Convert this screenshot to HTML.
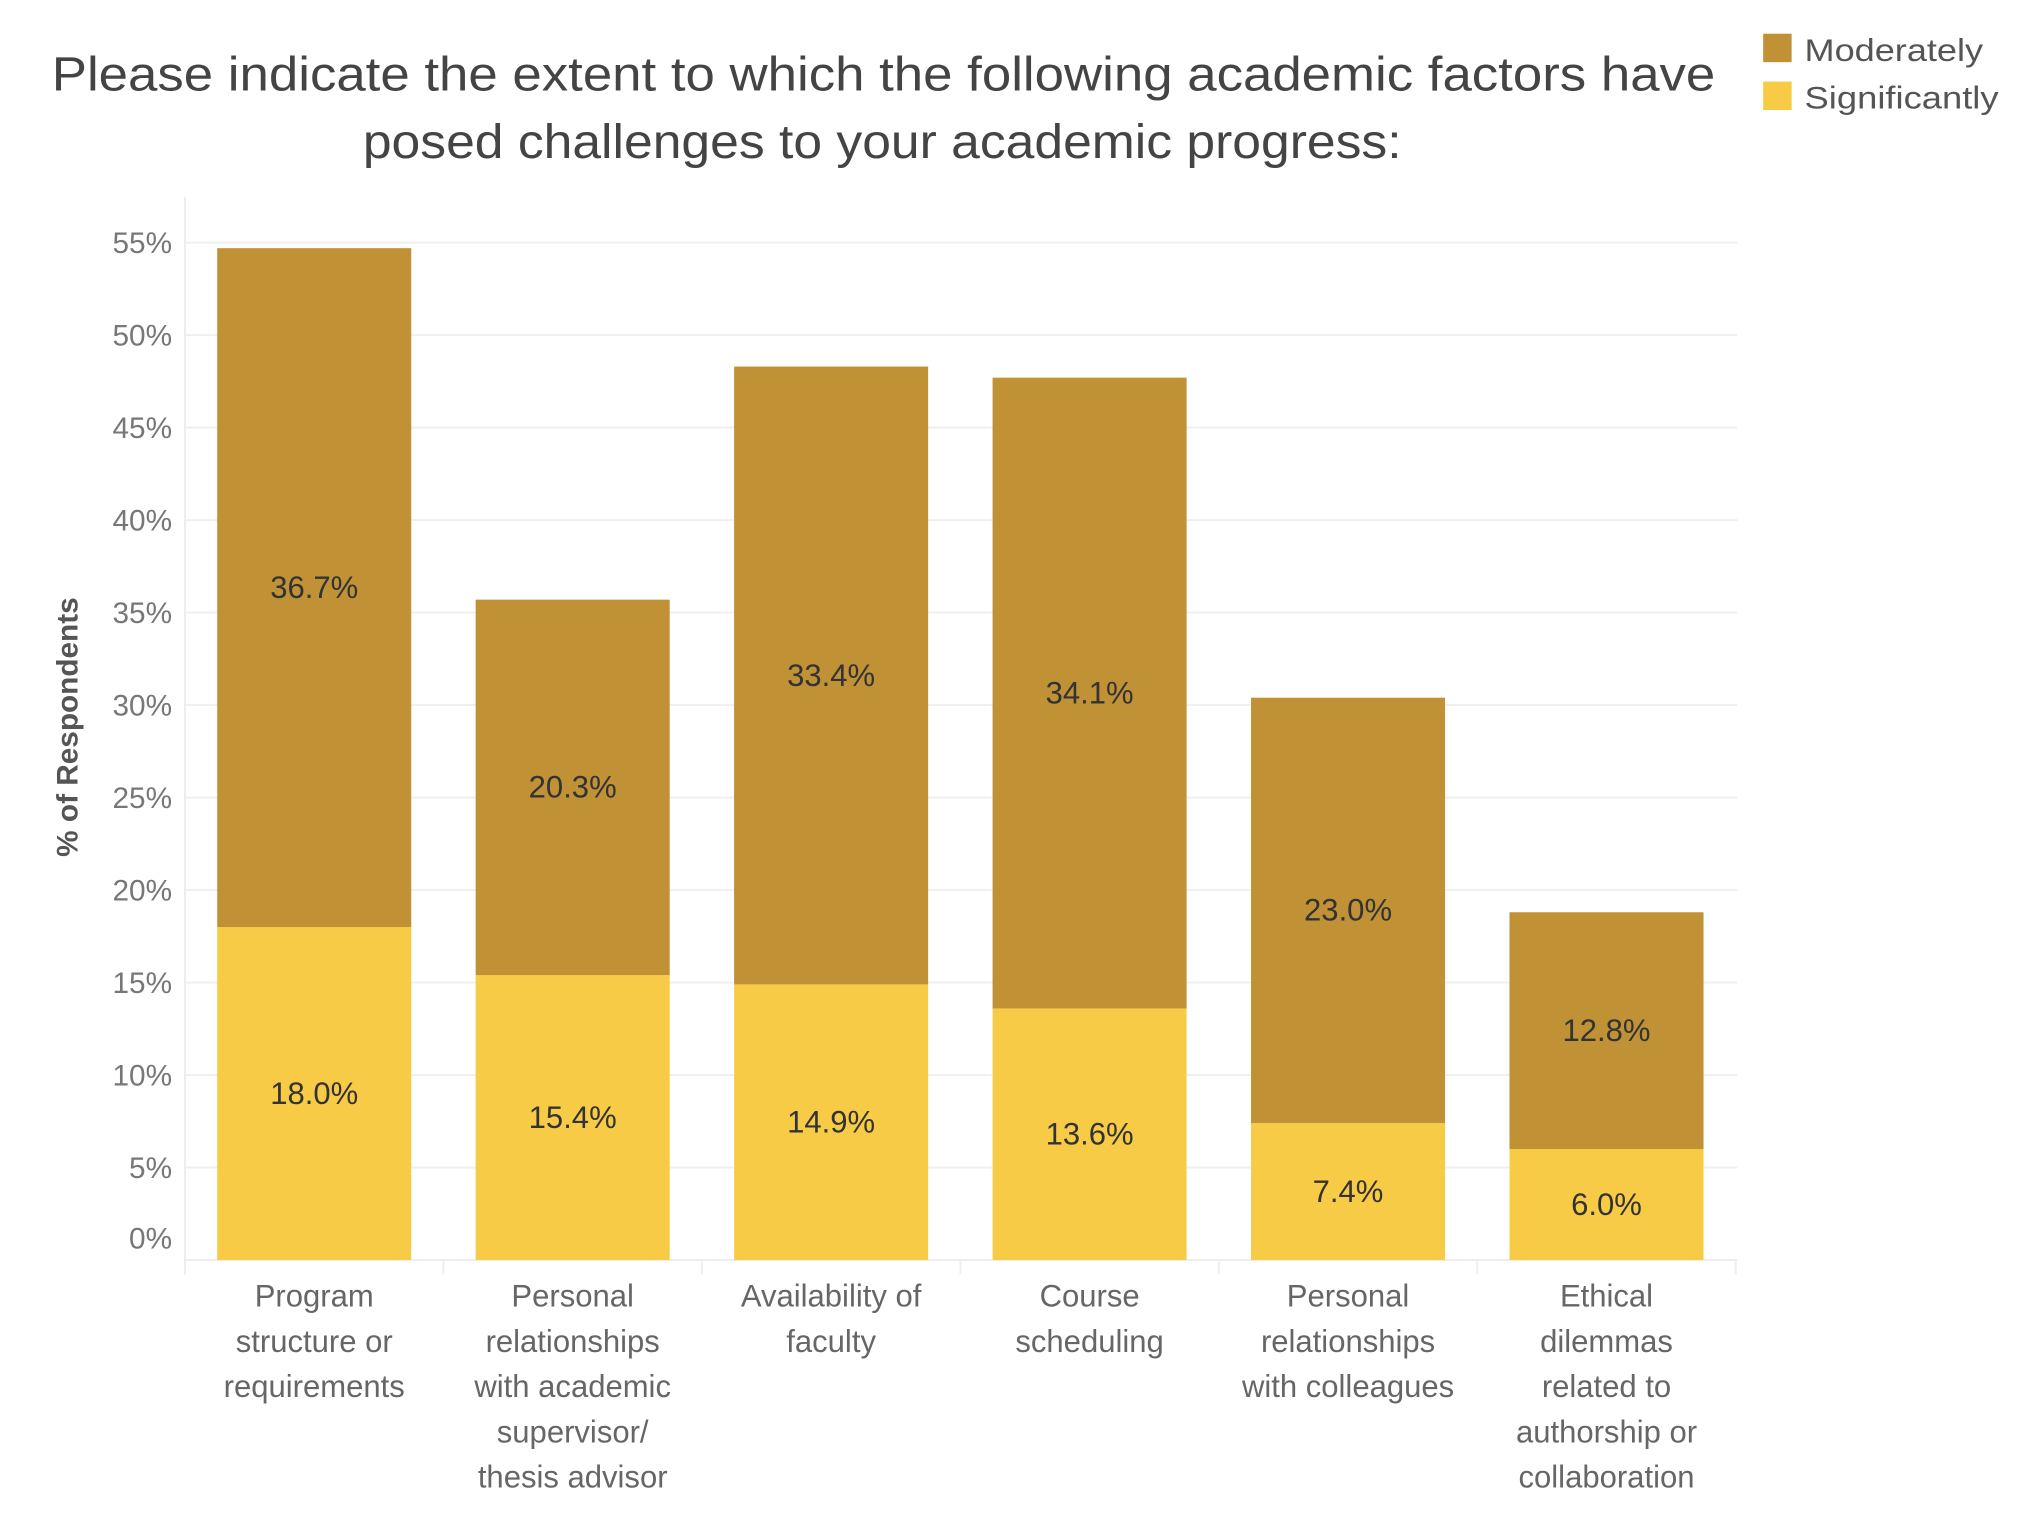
<!DOCTYPE html>
<html><head><meta charset="utf-8"><style>
html,body{margin:0;padding:0;background:#fff}
svg{display:block;font-family:"Liberation Sans",sans-serif}
</style></head><body>
<svg id="chart" width="2018" height="1524" viewBox="0 0 1560 1178">
<g fill="#444" font-size="37" text-anchor="middle">
<text x="683" y="70" textLength="1286" lengthAdjust="spacingAndGlyphs">Please indicate the extent to which the following academic factors have</text>
<text x="682" y="122" textLength="803" lengthAdjust="spacingAndGlyphs">posed challenges to your academic progress:</text>
</g>
<g font-size="24" fill="#555">
<rect x="1363" y="26" width="22" height="22" fill="#C09235"/>
<text x="1395" y="47" textLength="138" lengthAdjust="spacingAndGlyphs">Moderately</text>
<rect x="1363" y="63" width="22" height="22" fill="#F8CB47"/>
<text x="1395" y="84" textLength="150" lengthAdjust="spacingAndGlyphs">Significantly</text>
</g>
<text transform="translate(60,562) rotate(-90)" text-anchor="middle" font-size="23" font-weight="bold" fill="#555">% of Respondents</text>
<g id="grid"></g><g id="bars"></g><g id="xlabels"></g>
<script>
const categories=[["Program","structure or","requirements"],["Personal","relationships","with academic","supervisor/","thesis advisor"],["Availability of","faculty"],["Course","scheduling"],["Personal","relationships","with colleagues"],["Ethical","dilemmas","related to","authorship or","collaboration"]];
const significantly=[18.0,15.4,14.9,13.6,7.4,6.0];
const moderately=[36.7,20.3,33.4,34.1,23.0,12.8];
const yTicks=[0,5,10,15,20,25,30,35,40,45,50,55];
const NS="http://www.w3.org/2000/svg";
const y0=974,pxPer=14.3,left=143,band=199.8,bw=150;
const y=v=>y0-v*pxPer;
const x=i=>left+i*band+(band-bw)/2;
function mk(t,a,p){const e=document.createElementNS(NS,t);for(const k in a)e.setAttribute(k,a[k]);p.appendChild(e);return e;}
const grid=document.getElementById('grid'),bars=document.getElementById('bars'),xl=document.getElementById('xlabels');
yTicks.forEach(v=>{
 if(v>0){const l=mk('line',{x1:left,x2:1343,y1:y(v),y2:y(v),stroke:'#efefef','stroke-width':1.5},grid);
 
 }
 const t=mk('text',{x:133,y:(v===0?y0-9:y(v)+8),'text-anchor':'end','font-size':23,fill:'#777'},grid);
 t.textContent=v+'%';
 
 
});
const ax=mk('line',{x1:left,x2:left,y1:152,y2:985,stroke:'#eee','stroke-width':1.5},grid);


const bx=mk('line',{x1:left,x2:1343,y1:y0,y2:y0,stroke:'#eee','stroke-width':1.5},grid);


categories.forEach((c,i)=>{
 const s=significantly[i],m=moderately[i];
 const r1=mk('rect',{x:x(i),y:y(s),width:bw,height:y0-y(s),fill:'#F8CB47'},bars);
 
 
 const r2=mk('rect',{x:x(i),y:y(s+m),width:bw,height:y(s)-y(s+m),fill:'#C09235'},bars);
 
 
 const t1=mk('text',{x:x(i)+bw/2,y:(y0+y(s))/2+8,'text-anchor':'middle','font-size':24,fill:'#333'},bars);
 t1.textContent=s.toFixed(1)+'%';
 
 
 const t2=mk('text',{x:x(i)+bw/2,y:(y(s)+y(s+m))/2+8,'text-anchor':'middle','font-size':24,fill:'#333'},bars);
 t2.textContent=m.toFixed(1)+'%';
 
 
 const sep=mk('line',{x1:left+(i+1)*band,x2:left+(i+1)*band,y1:y0,y2:985,stroke:'#eee','stroke-width':1.5},grid);
 
 
 const g=mk('text',{'text-anchor':'middle','font-size':24,fill:'#666'},xl);
 
 
 c.forEach((line,j)=>{const ts=mk('tspan',{x:x(i)+bw/2,y:1010+j*35},g);ts.textContent=line;});
});
</script>
</svg>
</body></html>
